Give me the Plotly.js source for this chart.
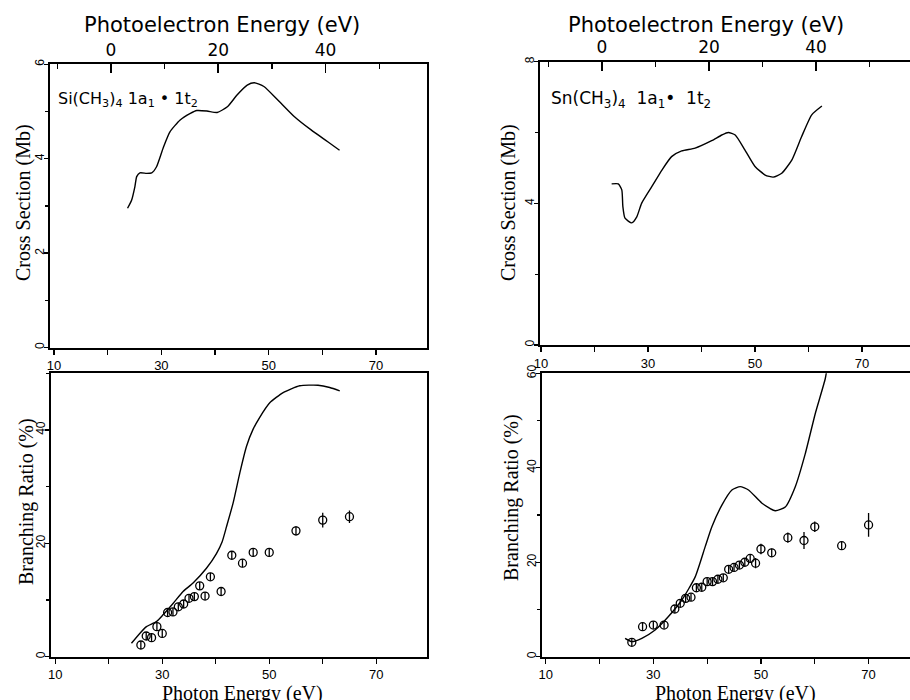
<!DOCTYPE html>
<html>
<head>
<meta charset="utf-8">
<script src="https://cdn.plot.ly/plotly-3.0.1.min.js"></script>
<style>html,body{margin:0;padding:0;background:#fff;}#chart{width:910px;height:700px;}</style>
</head>
<body>
<div id="chart"></div>
<script>
// ---- Data ----
// Si(CH3)4 1a1+1t2 cross section (Mb) vs photon energy (eV)
const siCsE = [23.7, 24.45, 25.07, 25.4, 26.0, 27.26, 28.2, 29.1, 30.4, 31.6, 33.5, 35.4, 36.6, 38.5, 40.4, 42.3, 44.1, 46.0, 47.3, 49.1, 51.65, 54.8, 57.9, 61.0, 63.2];
const siCs  = [2.95, 3.12, 3.41, 3.62, 3.70, 3.69, 3.70, 3.83, 4.25, 4.57, 4.82, 4.96, 5.02, 5.01, 4.98, 5.10, 5.35, 5.56, 5.61, 5.53, 5.25, 4.89, 4.61, 4.36, 4.18];
// Sn(CH3)4 1a1+1t2 cross section (Mb)
const snCsE = [23.2, 24.45, 25.1, 25.3, 25.7, 26.95, 27.9, 28.8, 30.7, 32.6, 34.4, 36.3, 38.8, 41.9, 43.8, 45.0, 46.3, 48.1, 50.0, 51.9, 53.4, 55.0, 56.9, 58.7, 60.6, 62.5];
const snCs  = [4.55, 4.55, 4.38, 3.91, 3.58, 3.45, 3.62, 4.0, 4.47, 4.94, 5.32, 5.48, 5.56, 5.77, 5.93, 6.0, 5.93, 5.51, 5.04, 4.80, 4.74, 4.85, 5.23, 5.88, 6.50, 6.75];
// Si(CH3)4 branching ratio (%): calculated curve
const siBrCurveE = [24.24, 25.79, 27.05, 28.92, 30.15, 32.02, 33.89, 35.76, 38.26, 40.13, 41.2, 42.0, 43.24, 44.49, 45.74, 46.97, 48.2, 50.1, 52.6, 55.7, 59.12, 61.31, 63.18];
const siBrCurve  = [2.36, 4.1, 5.3, 6.2, 7.4, 9.4, 11.5, 13.0, 15.6, 18.2, 20.3, 22.9, 27.1, 32.4, 37.1, 40.1, 42.2, 44.8, 46.6, 47.8, 47.9, 47.5, 46.9];
// Si(CH3)4 branching ratio (%): measured points
const siBrE   = [26, 27, 28, 29, 30, 31, 32, 33, 34, 35, 36, 37, 38, 39, 41, 43, 45, 47, 50, 55, 60, 65];
const siBr    = [2.06, 3.65, 3.36, 5.3, 4.1, 7.8, 7.9, 8.8, 9.3, 10.3, 10.6, 12.5, 10.7, 14.1, 11.5, 17.9, 16.5, 18.4, 18.4, 22.2, 24.1, 24.7];
const siBrErr = [0.7, 0.7, 0.7, 0.7, 0.7, 0.7, 0.7, 0.7, 0.7, 0.7, 0.7, 0.7, 0.7, 0.7, 0.7, 0.7, 0.7, 0.7, 0.7, 0.8, 1.3, 1.1];
// Sn(CH3)4 branching ratio (%): calculated curve
const snBrCurveE = [24.75, 26.0, 27.86, 30.33, 32.81, 35.3, 37.78, 39.64, 40.88, 42.74, 44.6, 46.15, 47.69, 50.19, 52.66, 54.52, 56.38, 58.24, 60.1, 61.96, 62.4];
const snBrCurve  = [3.9, 3.2, 3.9, 5.65, 8.5, 12.0, 16.9, 23.3, 27.5, 32.1, 35.3, 36.0, 35.3, 32.5, 30.9, 31.7, 36.0, 43.0, 51.5, 58.9, 62.0];
// Sn(CH3)4 branching ratio (%): measured points
const snBrE   = [26, 28, 30, 32, 34, 35, 36, 37, 38, 39, 40, 41, 42, 43, 44, 45, 46, 47, 48, 49, 50, 52, 55, 58, 60, 65, 70];
const snBr    = [3.05, 6.35, 6.7, 6.7, 10.1, 11.3, 12.35, 12.6, 14.6, 14.7, 15.9, 15.9, 16.4, 16.7, 18.5, 18.9, 19.4, 20.0, 20.8, 19.8, 22.8, 22.0, 25.2, 24.6, 27.5, 23.5, 27.9];
const snBrErr = [0.8, 0.8, 0.8, 0.8, 0.8, 0.8, 0.8, 0.8, 0.8, 0.8, 0.8, 0.8, 0.8, 0.8, 0.8, 0.8, 0.8, 0.8, 0.8, 1.1, 1.1, 0.9, 1.1, 1.8, 1.1, 0.8, 2.5];
// Ionisation offsets linking photon energy and photoelectron energy axes
const siIP = 20.6;
const snIP = 21.4;
// Text
const topTitle = 'Photoelectron Energy (eV)';
const csTitle = 'Cross Section (Mb)';
const brTitle = 'Branching Ratio (%)';
const bottomTitle = 'Photon Energy (eV)';
const siLabel = 'Si(CH<sub>3</sub>)<sub>4</sub> 1a<sub>1</sub> • 1t<sub>2</sub>';
const snLabel = 'Sn(CH<sub>3</sub>)<sub>4</sub>  1a<sub>1</sub>•  1t<sub>2</sub>';

// ---- Plot ----
const lineStyle = {color: '#000', width: 1.4, shape: 'spline', smoothing: 0.55};
const markerStyle = {symbol: 'circle-open', size: 8, color: '#000', line: {width: 1.3, color: '#000'}};

const traces = [
  {x: siCsE, y: siCs, xaxis: 'x', yaxis: 'y', mode: 'lines', line: lineStyle, hoverinfo: 'skip'},
  {x: snCsE, y: snCs, xaxis: 'x2', yaxis: 'y2', mode: 'lines', line: lineStyle, hoverinfo: 'skip'},
  {x: siBrCurveE, y: siBrCurve, xaxis: 'x3', yaxis: 'y3', mode: 'lines', line: lineStyle, hoverinfo: 'skip'},
  {x: siBrE, y: siBr, xaxis: 'x3', yaxis: 'y3', mode: 'markers', marker: markerStyle,
   error_y: {type: 'data', array: siBrErr, visible: true, width: 0, thickness: 1.3, color: '#000'}},
  {x: snBrCurveE, y: snBrCurve, xaxis: 'x4', yaxis: 'y4', mode: 'lines', line: lineStyle, hoverinfo: 'skip'},
  {x: snBrE, y: snBr, xaxis: 'x4', yaxis: 'y4', mode: 'markers', marker: markerStyle,
   error_y: {type: 'data', array: snBrErr, visible: true, width: 0, thickness: 1.3, color: '#000'}},
  // carriers for the photoelectron-energy axes
  {x: [], y: [], xaxis: 'x5', yaxis: 'y', mode: 'lines', hoverinfo: 'skip'},
  {x: [], y: [], xaxis: 'x6', yaxis: 'y2', mode: 'lines', hoverinfo: 'skip'}
];

const W = 910, H = 700;
const px = (a, b) => [a / W, b / W];
const py = (top, bottom) => [1 - bottom / H, 1 - top / H];

const tickFont = {family: 'Liberation Sans, Arial, sans-serif', size: 13, color: '#000'};
const topTickFont = {family: 'DejaVu Sans, sans-serif', size: 17, color: '#000'};
const serifTitle = {family: 'Liberation Serif, Times New Roman, serif', size: 20, color: '#000'};
const sansTitle = {family: 'DejaVu Sans, sans-serif', size: 21, color: '#000'};

function bottomX(domain, range, anchor, mirror) {
  return {
    domain: domain, range: range, anchor: anchor,
    showline: true, linecolor: '#000', linewidth: 2, mirror: mirror,
    showgrid: false, zeroline: false,
    ticks: 'outside', ticklen: 5, tickwidth: 1.4, tickcolor: '#000',
    tick0: 10, dtick: 20, tickfont: tickFont,
    minor: {dtick: 10, tick0: 10, ticks: 'outside', ticklen: 5, tickwidth: 1.2, tickcolor: '#000'}
  };
}
function leftY(domain, range, anchor, dtick, mdtick, mirror) {
  return {
    domain: domain, range: range, anchor: anchor,
    showline: true, linecolor: '#000', linewidth: 2, mirror: mirror,
    showgrid: false, zeroline: false,
    ticks: 'outside', ticklen: 4, tickwidth: 1.4, tickcolor: '#000',
    ticklabelstandoff: -5,
    tick0: 0, dtick: dtick, tickangle: -90, tickfont: {family: 'Liberation Sans, Arial, sans-serif', size: 12, color: '#000'},
    minor: {dtick: mdtick, tick0: 0, ticks: 'outside', ticklen: 3, tickwidth: 1.2, tickcolor: '#000'}
  };
}
function topX(over, anchor, range) {
  return {
    overlaying: over, anchor: anchor, side: 'top', range: range,
    showline: true, linecolor: '#000', linewidth: 2,
    showgrid: false, zeroline: false,
    ticks: 'inside', ticklen: 9, tickwidth: 1.6, tickcolor: '#000',
    tick0: 0, dtick: 20, tickfont: topTickFont,
    minor: {dtick: 10, tick0: 0, ticks: 'inside', ticklen: 5, tickwidth: 1.3, tickcolor: '#000'}
  };
}
function note(text, x, y, font, angle, xanchor) {
  return {xref: 'paper', yref: 'paper', x: x / W, y: 1 - y / H, xanchor: xanchor || 'center', yanchor: 'middle',
          showarrow: false, text: text, font: font, textangle: angle || 0};
}

const xL = [9.25, 79.4];
const xR2 = [9.81, 78.97];
const xL3 = [9.2, 79.4];
const xR4 = [9.31, 77.7];
const labelFont = {family: 'DejaVu Sans, sans-serif', size: 16, color: '#000'};

const layout = {
  width: W, height: H,
  margin: {l: 0, r: 0, t: 0, b: 0},
  paper_bgcolor: '#fff', plot_bgcolor: 'rgba(0,0,0,0)',
  showlegend: false,
  xaxis:  bottomX(px(50, 426.5), xL, 'y', false),
  yaxis:  leftY(py(64.3, 347.5), [0, 6], 'x', 2, 1, true),
  xaxis2: bottomX(px(540, 910), xR2, 'y2', false),
  yaxis2: leftY(py(61.7, 345), [0, 8], 'x2', 4, 2, false),
  xaxis3: bottomX(px(51, 426.5), xL3, 'y3', true),
  yaxis3: leftY(py(373.3, 656.7), [0, 50], 'x3', 20, 10, true),
  xaxis4: bottomX(px(542, 910), xR4, 'y4', true),
  yaxis4: leftY(py(373.3, 656.7), [0, 60], 'x4', 20, 10, false),
  xaxis5: topX('x', 'y', [xL[0] - siIP, xL[1] - siIP]),
  xaxis6: topX('x2', 'y2', [xR2[0] - snIP, xR2[1] - snIP]),
  annotations: [
    note(topTitle, 222, 25, sansTitle),
    note(topTitle, 706, 25, sansTitle),
    note(csTitle, 23, 203, serifTitle, -90),
    note(csTitle, 508, 203, serifTitle, -90),
    note(brTitle, 26, 502, serifTitle, -90),
    note(brTitle, 511, 498, serifTitle, -90),
    note(bottomTitle, 242, 693, serifTitle),
    note(bottomTitle, 735, 693, serifTitle),
    note(siLabel, 56, 100, labelFont, 0, 'left'),
    note(snLabel, 549, 100, {family: 'DejaVu Sans, sans-serif', size: 17, color: '#000'}, 0, 'left')
  ]
};

Plotly.newPlot('chart', traces, layout, {staticPlot: true, displayModeBar: false});
</script>
</body>
</html>
